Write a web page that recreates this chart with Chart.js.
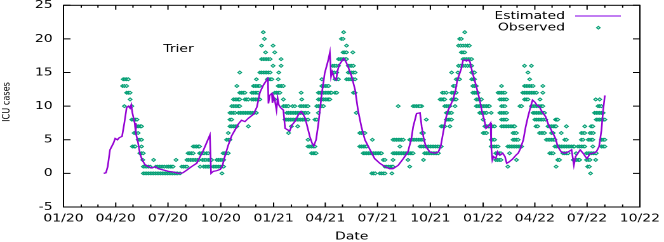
<!DOCTYPE html>
<html><head><meta charset="utf-8">
<script src="https://cdn.jsdelivr.net/npm/chart.js@4"></script>
<style>
html,body{margin:0;padding:0;background:#fff;overflow:hidden}
#wrap{position:absolute;left:0;top:0;width:523px;height:242px;transform:scaleX(1.2696);transform-origin:0 0}
</style></head><body>
<div id="wrap"><canvas id="c"></canvas></div>
<script>
// x values are days since 2020-01-01
const tickDays = [0,91,182,274,366,456,547,639,731,821,912,1004];
const tickLabels = ['01/20','04/20','07/20','10/20','01/21','04/21','07/21','10/21','01/22','04/22','07/22','10/22'];
const monthDays = [0,31,60,91,121,152,182,213,244,274,305,335,366,397,425,456,486,517,547,578,609,639,670,700,731,762,790,821,851,882,912,943,974,1004];
const yTicks = [-5,0,5,10,15,20,25];
const regionName = 'Trier';

// Estimated ICU cases: [day, value]
const estimated = [
[70,0],[74,0.1],[77,1],[81,3.5],[87,4.5],[90,5.2],[94,5.0],[97,5.3],[102,5.5],[106,7.5],[110,9.8],[113,10],[116,9.7],[118,10.2],[120,9],[124,7.5],[126,6],[130,4.5],[133,3],[137,2],[142,1.3],[148,1],[154,0.8],[160,1],[165,0.7],[174,0.5],[183,0.3],[191,0.2],[200,0],[208,0.1],[215,0.5],[223,1],[232,1.5],[238,2.5],[244,3.5],[249,4.5],[255,5.7],
[257,0],[261,0.3],[267,0.4],[273,0.6],[277,1.2],[281,2.5],[287,4.2],[293,5.6],[299,6.5],[305,7.4],[310,7.9],[316,7.7],[322,8.2],[331,8.8],[337,9.9],[342,12.0],[348,13.1],[354,13.9],[356,14.3],[357,10.4],[359,11.6],[363,11.9],[364,10.5],[366,11.4],[368,10.9],[371,9.4],[373,11.2],[375,10.2],[378,9.8],[383,9.4],[386,6.7],[390,6.5],[394,6.3],[398,7.2],[403,7.7],[409,8.7],[414,9.2],[418,8.7],[421,8.2],[424,7.2],[429,5.5],[433,4.5],[436,4.1],[440,5],[444,7.4],[450,11.9],[455,14.9],[461,16.8],[464,18],[466,14.4],[468,15.1],[472,14.1],[475,13.9],[477,15.1],[480,16.1],[484,16.6],[488,17.1],[492,16.6],[496,15.8],[502,14.4],[508,12.4],[513,9.4],[519,6.9],[525,5],[534,3.5],[542,2.2],[551,1.5],[560,1],[568,0.7],[574,0.7],[583,1.2],[592,2.2],[600,3.2],[606,5.2],[609,6.9],[615,8.9],[621,9],[624,6.9],[627,5.4],[631,4],[638,3.2],[647,3],[653,3.2],[657,4],[661,5.9],[666,8.2],[670,9.4],[674,10.1],[679,11.1],[683,12.4],[686,13.9],[689,14.6],[693,15.6],[696,16.8],[699,16.9],[702,16.7],[705,16.9],[708,16.6],[712,15.1],[716,13.9],[720,12.6],[725,10.9],[729,9.2],[733,7.9],[736,6.7],[740,7],[744,7.5],[745,4],[747,2],[749,2.5],[753,2.2],[756,3.2],[758,2.9],[760,2.7],[765,3],[769,2.5],[772,1.5],[776,1.7],[782,2.1],[788,2.7],[792,3],[796,3.7],[801,5],[805,6.9],[809,8.4],[813,9.7],[817,10.9],[821,10.6],[825,10.1],[829,9.9],[832,9.4],[836,8.9],[840,8.4],[844,7.4],[848,6.7],[853,5.9],[857,5.2],[861,4],[867,3.2],[873,3],[879,3.2],[885,3.5],[889,1.2],[892,2.5],[896,3],[900,3.5],[905,3],[909,2.5],[912,2.2],[917,2.9],[922,3],[928,3.2],[933,4],[937,6.4],[940,9.4],[943,11.6]
];

// Observed ICU cases: rows of [value, day, day, ...]
const obsWaveA = [
[14,104,107,110,113],
[13,103,106,110],
[12,110,113,116],
[11,116],
[10,106,119],
[8,119,122,125,128],
[7,128,131,134,136],
[6,123,126,130],
[5,130,133,136],
[4,120,123,125,136,226,229,232,235,237],
[3,133,136,139,217,220,223,226,237,240,243,245,249,252,278,281,284,287],
[2,138,157,196,215,218,221,224,227,230,233,236,242,245,248,252,255,258,267,270,273,276,279],
[1,139,142,145,148,151,161,164,167,170,173,176,180,183,186,189,191,206,209,212,215,238,244,247,250,253,256,261,264,267,270,273,276,279],
[0,139,142,145,148,151,154,157,160,163,166,169,172,175,178,181,184,187,190,193,196,199,203,276]
];
const obsWaveB = [
[21,348],
[20,350],
[19,345,365],
[18,352,368],
[17,345,348,351,354,357,360,379],
[16,365,379],
[15,307,342,345,348,351,354,357,360,375],
[14,336,355,358,361,363,374],
[13,302,331,334,337,340,342,374,377,380,383],
[12,307,310,313,316,328,331,334,337,339,368,371,374,377,414],
[11,296,299,302,305,307,316,319,322,328,331,334,337,340,342,368,383,415],
[10,293,296,299,302,305,307,383,386,389,392,399,403,412,415,418,421,424,426],
[9,290,293,296,299,305,308,311,314,317,320,323,326,329,332,336,389,392,395,398,401,404,407,410,413,416,419,422,426],
[8,290,293,386,389,392,395,398,401,404,407,410,413,416,419,422,426],
[7,290,293,296,299,302,322,397,408],
[6,287,392],
[5,284,287,290,426],
[4,426,429,432,435,438],
[3,432,435,438,440]
];
const obsWaveC = [
[21,488],
[20,484,487],
[19,493],
[18,487,490,493,504],
[17,479,482,485,488,491,493],
[16,469,472,475,479,496,499,502,505],
[15,469,472,476,496,499,502,505,508],
[14,450,473,476,479,493,496,499,502,505,508],
[13,450,453,456,459,462],
[12,444,447,450,453,456,459,462,465,467,473,476,505,508],
[11,444,447,450,453,456,459,462,464],
[10,441,444,447,450,453,583,609,612,615,618,621,624],
[9,444,510],
[8,438,441,632],
[6,516,519,522,525],
[5,538,574,577,580,583,586,589,592,603,606,609,612,615,618],
[4,516,519,522,525,528,586],
[3,522,525,528,531,534,537,540,543,546,549,552,554,574,577,580,583,586,589,592,595,598,601,604,607,609],
[2,557,560,574,600],
[1,560,563,566,569,572,574,603],
[0,537,540,543,551,554,557,560,572]
];
const obsWaveD = [
[21,699],
[20,690,693],
[19,688,692,696,700,704,707],
[18,693,696,699],
[17,696,699,702,705,708,711],
[16,688,692,696,700,704,708,711],
[15,676,687,711,714,716],
[14,684,687,690,711,714,716],
[13,679,682,713,716,719,763],
[12,660,663,667,676,679,682,684,713,716,719,722,757,760,763,766,769],
[11,656,659,662,664,676,679,682,684,719,722,725,728,760,763,766,769,772],
[10,621,664,667,670,673,682,719,722,725,728,731,734,737,740,742,763,766,769],
[9,667,670,673,676,725,728,731,734,737,745,760,763,766,769,772],
[8,667,670,673,676,731,763,766,769,772],
[7,658,661,664,673,734,737,740,742,748,751,763,766,769,772,775,778,781,784,786],
[6,624,627,731,734,737,783,786,789],
[5,621,624,627,745,748,751,783,786,789,792],
[4,621,624,627,630,633,636,639,642,645,648,651,654,658,745,748,751,754,757,774,777,780,783,786,789,792,795,798],
[3,629,632,635,638,641,644,647,650,653,753,756,759,762,777],
[2,627,753,756,759,762,789],
[1,774]
];
const obsWaveE = [
[16,803,815],
[15,809],
[14,812],
[13,803,806,809,812,815,818,835],
[12,800,803,806,809,812,815,818,821,824,835],
[11,803,806,809,830,927,934],
[10,795,798,815,818,821,824,827,830,833,835,931,934,937],
[9,818,821,824,827,830,833,836,838,925,928,931,934,937,940],
[8,821,824,827,830,833,836,840,857,859,861,928,931,934,937,940,943],
[7,823,826,844,847,850,853,856,858,876,908,919,922],
[6,829,832,835,838,850,853,867,902,905,908,917,920,923],
[5,841,844,847,850,853,856,873,876,902,905,914,917,920,922,937,940,943],
[4,856,859,862,864,867,870,873,876,879,882,885,888,890,896,899,902,905,908,922,937,940,943],
[3,847,850,853,870,873,876,879,893,911,914,917,920,923,926,928],
[2,861,864,888,891,894,897,899,911,914,917,927],
[1,858,913,916],
[0,918]
];

const LINE_COLOR = '#9400d3';
const LEGEND_LINE_COLOR = '#b96cf0';
const PT_COLOR = '#009e73';
const PT_FILL = '#c8eadf';
const FONT = '"DejaVu Sans", Verdana, sans-serif';

const estData = estimated.map(p => ({x: p[0], y: p[1]}));
const obsData = [];
[obsWaveA, obsWaveB, obsWaveC, obsWaveD, obsWaveE].forEach(wave => {
  wave.forEach(row => {
    for (let i = 1; i < row.length; i++) obsData.push({x: row[i], y: row[0]});
  });
});

function drawDiamond(ctx, x, y, r) {
  ctx.beginPath();
  ctx.moveTo(x, y - r); ctx.lineTo(x + r, y); ctx.lineTo(x, y + r); ctx.lineTo(x - r, y); ctx.closePath();
  ctx.fillStyle = PT_FILL; ctx.fill();
  ctx.strokeStyle = PT_COLOR; ctx.lineWidth = 0.9; ctx.stroke();
}

const deco = {
  id: 'deco',
  afterDraw(chart) {
    const {ctx, chartArea: a, scales: {x, y}} = chart;
    ctx.save();
    ctx.strokeStyle = '#000';
    ctx.lineWidth = 1;
    ctx.strokeRect(a.left, a.top, a.right - a.left, a.bottom - a.top);
    ctx.beginPath();
    yTicks.forEach(v => {
      const py = y.getPixelForValue(v);
      ctx.moveTo(a.left, py); ctx.lineTo(a.left + 5.5, py);
      ctx.moveTo(a.right, py); ctx.lineTo(a.right - 5.5, py);
    });
    monthDays.forEach(d => {
      const px = x.getPixelForValue(d);
      const len = tickDays.includes(d) ? 4.5 : 2.5;
      ctx.moveTo(px, a.bottom); ctx.lineTo(px, a.bottom - len);
      ctx.moveTo(px, a.top); ctx.lineTo(px, a.top + len);
    });
    ctx.stroke();

    ctx.fillStyle = '#000';
    ctx.font = '11px ' + FONT;
    ctx.textBaseline = 'middle';
    ctx.textAlign = 'center';
    ctx.fillText(regionName, 140.6, 49);
    ctx.fillText('Date', (a.left + a.right) / 2, 236.5);
    ctx.textAlign = 'right';
    ctx.fillText(chart.data.datasets[0].label, 445, 16);
    ctx.fillText(chart.data.datasets[1].label, 445, 27.7);
    ctx.strokeStyle = LEGEND_LINE_COLOR;
    ctx.lineWidth = 1.8;
    ctx.beginPath(); ctx.moveTo(453, 16); ctx.lineTo(489, 16); ctx.stroke();
    drawDiamond(ctx, 471.3, 27.7, 1.4);
    ctx.save();
    ctx.translate(5.2, 102);
    ctx.rotate(-Math.PI / 2);
    ctx.textAlign = 'center';
    ctx.fillStyle = '#000';
    ctx.font = '8.2px ' + FONT;
    ctx.fillText('ICU cases', 0, 0);
    ctx.restore();
    ctx.restore();
  }
};

new Chart(document.getElementById('c'), {
  type: 'scatter',
  data: {
    datasets: [
      {label: 'Estimated', data: estData, showLine: true, borderColor: LINE_COLOR, backgroundColor: LINE_COLOR,
       borderWidth: 1.3, pointRadius: 0, tension: 0, order: 0},
      {label: 'Observed', data: obsData, showLine: false, pointStyle: 'rectRot', pointRadius: 1.5,
       borderColor: PT_COLOR, backgroundColor: PT_FILL, pointBorderWidth: 0.9, order: 1}
    ]
  },
  options: {
    responsive: true,
    maintainAspectRatio: false,
    animation: false,
    devicePixelRatio: 2,
    layout: {padding: {top: 5.3, right: 19, left: 0, bottom: 0}},
    plugins: {legend: {display: false}, tooltip: {enabled: false}},
    scales: {
      x: {
        type: 'linear', position: 'bottom', min: 0, max: 1004,
        afterBuildTicks: s => { s.ticks = tickDays.map(v => ({value: v})); },
        afterFit: s => { s.height = 35; s.paddingLeft = 0; s.paddingRight = 0; },
        grid: {display: false, drawTicks: false},
        border: {display: false},
        ticks: {
          autoSkip: false, maxRotation: 0, minRotation: 0, padding: 5, color: '#000',
          font: {family: FONT, size: 11},
          callback: v => tickLabels[tickDays.indexOf(v)]
        }
      },
      y: {
        min: -5, max: 25,
        afterBuildTicks: s => { s.ticks = yTicks.map(v => ({value: v})); },
        afterFit: s => { s.width = 50; s.paddingTop = 0; s.paddingBottom = 0; },
        grid: {display: false, drawTicks: false},
        border: {display: false},
        ticks: {padding: 8.5, color: '#000', font: {family: FONT, size: 11}, callback: v => String(v)}
      }
    }
  },
  plugins: [deco]
});
</script></body></html>
